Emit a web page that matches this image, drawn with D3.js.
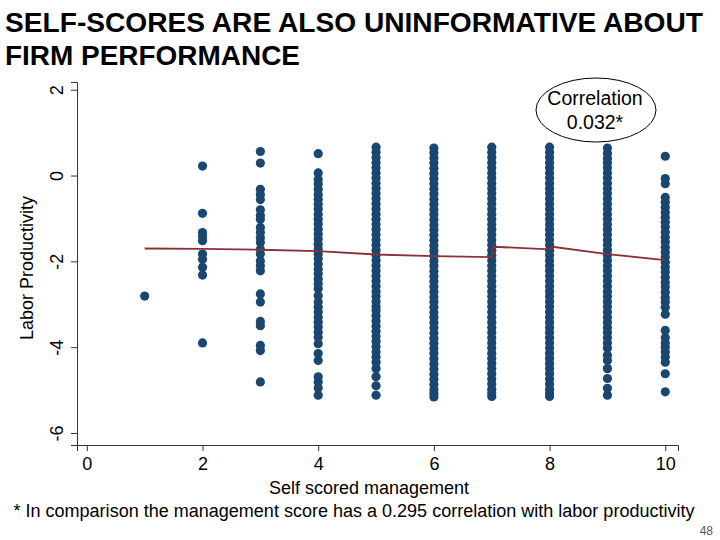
<!DOCTYPE html>
<html>
<head>
<meta charset="utf-8">
<title>Self-scores vs labor productivity</title>
<script src="https://d3js.org/d3.v7.min.js"></script>
<style>
  body { margin: 0; background: #fff; }
  svg { display: block; font-family: "Liberation Sans", Arial, sans-serif; }
</style>
</head>
<body>
<script>
// self score (x) and the labor productivity values seen in each column
const scores = [1, 2, 3, 4, 5, 6, 7, 8, 9, 10];
const prod1 = [-2.81];
const prod2 = [0.22, -0.88, -1.33, -1.42, -1.52, -1.83, -1.95, -2.14, -2.32, -3.90];
const prod3 = [0.56, 0.29, -0.32, -0.44, -0.56, -0.80, -0.93, -1.02, -1.21, -1.33, -1.45, -1.56,
               -1.72, -1.83, -1.99, -2.10, -2.22, -2.76, -2.95, -3.40, -3.50, -3.96, -4.08, -4.81];
const prod4 = [0.51, 0.06, -0.09, -0.20, -0.32, -0.44, -0.55, -0.67, -0.78, -0.90, -1.02, -1.13,
               -1.25, -1.36, -1.48, -1.60, -1.71, -1.83, -1.94, -2.06, -2.18, -2.29, -2.41, -2.52,
               -2.64, -2.80, -2.95, -3.07, -3.18, -3.30, -3.42, -3.53, -3.65, -3.77, -3.92, -4.15,
               -4.31, -4.69, -4.81, -4.95, -5.12];
const prod5 = [0.66, 0.54, 0.42, 0.30, 0.18, 0.06, -0.06, -0.18, -0.30, -0.42, -0.54, -0.66,
               -0.78, -0.90, -1.02, -1.14, -1.26, -1.38, -1.50, -1.62, -1.74, -1.86, -1.98, -2.10,
               -2.22, -2.34, -2.46, -2.58, -2.70, -2.82, -2.94, -3.06, -3.15, -3.27, -3.39, -3.51,
               -3.63, -3.75, -3.87, -3.99, -4.11, -4.23, -4.35, -4.50, -4.69, -4.90, -5.12];
const prod6 = [0.64, 0.53, 0.41, 0.29, 0.17, 0.05, -0.07, -0.19, -0.31, -0.43, -0.55, -0.67,
               -0.79, -0.91, -1.03, -1.15, -1.27, -1.39, -1.51, -1.63, -1.75, -1.87, -1.99, -2.11,
               -2.23, -2.35, -2.47, -2.59, -2.71, -2.83, -2.95, -3.07, -3.19, -3.31, -3.43, -3.55,
               -3.67, -3.79, -3.91, -4.03, -4.15, -4.27, -4.39, -4.51, -4.63, -4.75, -4.87, -4.99,
               -5.08, -5.16];
const prod7 = [0.66, 0.54, 0.42, 0.30, 0.18, 0.06, -0.06, -0.18, -0.30, -0.42, -0.54, -0.66,
               -0.78, -0.90, -1.02, -1.14, -1.26, -1.38, -1.50, -1.62, -1.74, -1.86, -1.98, -2.10,
               -2.22, -2.34, -2.46, -2.58, -2.70, -2.82, -2.94, -3.06, -3.18, -3.30, -3.42, -3.54,
               -3.66, -3.78, -3.90, -4.02, -4.14, -4.26, -4.38, -4.50, -4.62, -4.74, -4.86, -4.98,
               -5.07, -5.15];
const prod8 = [0.66, 0.54, 0.42, 0.30, 0.18, 0.06, -0.06, -0.18, -0.30, -0.42, -0.54, -0.66,
               -0.78, -0.90, -1.02, -1.14, -1.26, -1.38, -1.50, -1.62, -1.74, -1.86, -1.98, -2.10,
               -2.22, -2.34, -2.46, -2.58, -2.70, -2.82, -2.94, -3.06, -3.18, -3.30, -3.42, -3.54,
               -3.66, -3.78, -3.90, -4.02, -4.14, -4.26, -4.38, -4.50, -4.62, -4.74, -4.86, -4.98,
               -5.07, -5.15];
const prod9 = [0.64, 0.52, 0.40, 0.29, 0.18, 0.06, -0.06, -0.18, -0.30, -0.42, -0.54, -0.66,
               -0.78, -0.90, -1.02, -1.14, -1.26, -1.38, -1.50, -1.62, -1.74, -1.86, -1.98, -2.10,
               -2.22, -2.34, -2.46, -2.58, -2.70, -2.82, -2.94, -3.06, -3.18, -3.30, -3.42, -3.54,
               -3.66, -3.78, -3.90, -4.02, -4.19, -4.31, -4.50, -4.73, -4.96, -5.12];
const prod10 = [0.45, -0.07, -0.19, -0.51, -0.62, -0.74, -0.86, -0.97, -1.09, -1.20, -1.32, -1.44,
                -1.55, -1.67, -1.79, -1.90, -2.02, -2.14, -2.25, -2.37, -2.49, -2.60, -2.72, -2.84,
                -2.95, -3.07, -3.23, -3.61, -3.78, -3.90, -4.00, -4.11, -4.23, -4.35, -4.62, -5.04];
const prodByScore = [prod1, prod2, prod3, prod4, prod5, prod6, prod7, prod8, prod9, prod10];

// fitted line
const fitX = [1, 2, 3, 4, 5, 6, 7, 7.03, 8, 8.05, 9, 10];
const fitY = [-1.70, -1.71, -1.73, -1.76, -1.84, -1.88, -1.90, -1.66, -1.72, -1.66, -1.83, -1.97];

const xTicks = [0, 2, 4, 6, 8, 10];
const yTicks = [2, 0, -2, -4, -6];

const width = 720, height = 540;
const svg = d3.select("body").append("svg")
    .attr("width", width)
    .attr("height", height);

const x = d3.scaleLinear().domain([-0.17, 10.22]).range([77, 678]);
const y = d3.scaleLinear().domain([-6.28, 2.18]).range([445, 82]);

// title
const title = svg.append("g")
    .attr("font-weight", "bold")
    .attr("font-size", 27)
    .attr("fill", "#000");
title.append("text").attr("x", 5).attr("y", 32)
    .attr("textLength", 698).attr("lengthAdjust", "spacingAndGlyphs")
    .text("SELF-SCORES ARE ALSO UNINFORMATIVE ABOUT");
title.append("text").attr("x", 5).attr("y", 65)
    .attr("textLength", 295).attr("lengthAdjust", "spacingAndGlyphs")
    .text("FIRM PERFORMANCE");

// points
const points = [];
scores.forEach((s, i) => prodByScore[i].forEach(v => points.push({s: s, v: v})));

svg.append("g")
    .selectAll("circle")
    .data(points)
    .join("circle")
    .attr("cx", d => x(d.s))
    .attr("cy", d => y(d.v))
    .attr("r", 4.6)
    .attr("fill", "#1a476f");

// fitted line
const line = d3.line()
    .x((d, i) => x(fitX[i]))
    .y(d => y(d));
svg.append("path")
    .attr("d", line(fitY))
    .attr("fill", "none")
    .attr("stroke", "#8c2f39")
    .attr("stroke-width", 1.8);

// axes
const xAxis = svg.append("g")
    .attr("transform", "translate(0,445)")
    .call(d3.axisBottom(x).tickValues(xTicks).tickSizeOuter(0).tickSize(6).tickPadding(6));
xAxis.selectAll("text").attr("font-size", 18).attr("fill", "#000")
    .attr("font-family", "Liberation Sans, Arial, sans-serif");

const yAxis = svg.append("g")
    .attr("transform", "translate(77,0)")
    .call(d3.axisLeft(y).tickValues(yTicks).tickSizeOuter(0).tickSize(6)
        .tickFormat(d => d));
yAxis.selectAll(".tick text")
    .attr("font-size", 18).attr("fill", "#000")
    .attr("font-family", "Liberation Sans, Arial, sans-serif")
    .attr("text-anchor", "middle")
    .attr("x", 0).attr("y", 0).attr("dy", "0.35em")
    .attr("transform", "translate(-20,0) rotate(-90)");
svg.selectAll(".domain, .tick line").attr("stroke", "#333");

// axis titles
svg.append("text")
    .attr("transform", "translate(33,268) rotate(-90)")
    .attr("text-anchor", "middle")
    .attr("font-size", 18)
    .text("Labor Productivity");

svg.append("text")
    .attr("x", 369).attr("y", 494)
    .attr("text-anchor", "middle")
    .attr("font-size", 18)
    .text("Self scored management");

svg.append("text")
    .attr("x", 354).attr("y", 517)
    .attr("text-anchor", "middle")
    .attr("font-size", 18)
    .attr("textLength", 681).attr("lengthAdjust", "spacingAndGlyphs")
    .text("* In comparison the management score has a 0.295 correlation with labor productivity");

// correlation box
svg.append("ellipse")
    .attr("cx", 596).attr("cy", 110)
    .attr("rx", 60).attr("ry", 32)
    .attr("fill", "#fff").attr("stroke", "#000").attr("stroke-width", 1);
svg.append("text").attr("x", 595).attr("y", 105)
    .attr("text-anchor", "middle").attr("font-size", 19.5)
    .text("Correlation");
svg.append("text").attr("x", 595).attr("y", 129)
    .attr("text-anchor", "middle").attr("font-size", 19.5)
    .text("0.032*");

// page number
svg.append("text")
    .attr("x", 713).attr("y", 535)
    .attr("text-anchor", "end")
    .attr("font-size", 12)
    .attr("fill", "#555")
    .text("48");
</script>
</body>
</html>
